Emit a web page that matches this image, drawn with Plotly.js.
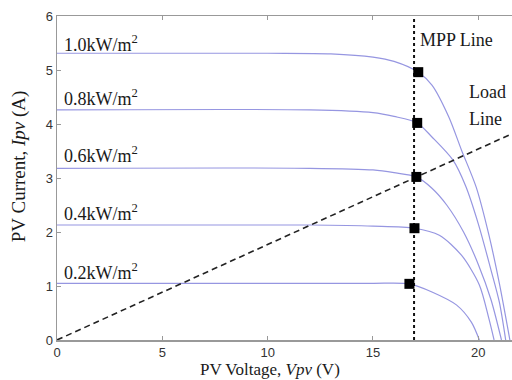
<!DOCTYPE html>
<html>
<head>
<meta charset="utf-8">
<script src="https://cdn.plot.ly/plotly-3.0.1.min.js"></script>
<style>html,body{margin:0;padding:0;background:#fff;}#chart{width:512px;height:380px;}</style>
</head>
<body>
<div id="chart"></div>
<script>
// I-V curves for each irradiance level (voltage V, current A)
const v10 = [0, 10, 13, 15, 16, 17.15, 17.8, 18.6, 19.2, 19.9, 20.5, 21.0, 21.5];
const i10 = [5.31, 5.31, 5.30, 5.24, 5.16, 4.96, 4.72, 4.13, 3.52, 2.83, 1.95, 1.05, 0];
const v08 = [0, 12, 15, 16, 17.1, 17.8, 18.8, 19.4, 20.0, 20.6, 21.0, 21.3];
const i08 = [4.26, 4.26, 4.21, 4.14, 4.02, 3.76, 3.33, 2.85, 2.15, 1.3, 0.7, 0];
const v06 = [0, 12, 15, 16, 17.06, 17.8, 18.5, 19.3, 20.0, 20.6, 21.1];
const i06 = [3.18, 3.18, 3.15, 3.10, 3.02, 2.81, 2.5, 2.0, 1.4, 0.75, 0];
const v04 = [0, 12, 15, 16.97, 18.15, 19.2, 20.05, 20.5, 20.75];
const i04 = [2.13, 2.13, 2.11, 2.07, 1.94, 1.57, 1.02, 0.4, 0];
const v02 = [0, 12, 15, 16.73, 17.8, 18.96, 19.67, 20.05];
const i02 = [1.05, 1.05, 1.05, 1.04, 0.89, 0.65, 0.33, 0];
// MPP points
const mppV = [17.15, 17.1, 17.06, 16.97, 16.73];
const mppI = [4.96, 4.02, 3.02, 2.07, 1.04];
// MPP line and load line
const mppLineV = [16.95, 16.95];
const mppLineI = [0, 6];
const loadV = [0, 21.6];
const loadI = [0, 3.82];
// Labels
const irrLabels = ['1.0kW/m<sup>2</sup>', '0.8kW/m<sup>2</sup>', '0.6kW/m<sup>2</sup>', '0.4kW/m<sup>2</sup>', '0.2kW/m<sup>2</sup>'];
const irrLabelY = [5.5, 4.5, 3.43, 2.37, 1.26];
const xTicks = [0, 5, 10, 15, 20];
const yTicks = [0, 1, 2, 3, 4, 5, 6];

const curveColor = 'rgb(150,150,225)';
const serif = 'Liberation Serif, Times New Roman, serif';
const textCol = '#1a1a1a';
const curves = [[v10,i10],[v08,i08],[v06,i06],[v04,i04],[v02,i02]];
const traces = curves.map(c => ({
  x: c[0], y: c[1], type: 'scatter', mode: 'lines',
  line: {color: curveColor, width: 1.2, shape: 'spline', smoothing: 0.8},
  hoverinfo: 'skip', showlegend: false
}));
traces.push({x: mppLineV, y: mppLineI, type: 'scatter', mode: 'lines',
  line: {color: '#111', width: 2, dash: '3px,3px'}, showlegend: false});
traces.push({x: loadV, y: loadI, type: 'scatter', mode: 'lines',
  line: {color: '#222', width: 1.6, dash: '6px,4px'}, showlegend: false});
traces.push({x: mppV, y: mppI, type: 'scatter', mode: 'markers',
  marker: {symbol: 'square', size: 10, color: '#000'}, showlegend: false});

const annotations = irrLabels.map((t, k) => ({
  x: 0.25, y: irrLabelY[k], xref: 'x', yref: 'y', text: t, showarrow: false,
  xanchor: 'left', yanchor: 'middle', font: {family: serif, size: 18, color: textCol}
}));
annotations.push({x: 17.15, y: 5.55, xref: 'x', yref: 'y', text: 'MPP Line', showarrow: false,
  xanchor: 'left', yanchor: 'middle', font: {family: serif, size: 18, color: textCol}});
annotations.push({x: 19.45, y: 4.6, xref: 'x', yref: 'y', text: 'Load', showarrow: false,
  xanchor: 'left', yanchor: 'middle', font: {family: serif, size: 18, color: textCol}});
annotations.push({x: 19.45, y: 4.1, xref: 'x', yref: 'y', text: 'Line', showarrow: false,
  xanchor: 'left', yanchor: 'middle', font: {family: serif, size: 18, color: textCol}});
// axis titles
annotations.push({x: (270 - 57) / (512 - 57), y: -0.091, xref: 'paper', yref: 'paper',
  text: 'PV Voltage, <i>Vpv</i> (V)', showarrow: false, xanchor: 'center', yanchor: 'middle',
  font: {family: serif, size: 17, color: textCol}});
annotations.push({x: -0.083, y: (340 - 166) / (340 - 16), xref: 'paper', yref: 'paper',
  text: 'PV Current, <i>Ipv</i> (A)', showarrow: false, xanchor: 'center', yanchor: 'middle', textangle: -90,
  font: {family: serif, size: 19, color: textCol}});

const layout = {
  width: 512, height: 380,
  margin: {l: 57, r: 0, t: 16, b: 40},
  paper_bgcolor: '#fff', plot_bgcolor: '#fff',
  xaxis: {range: [0, 21.6], tickvals: xTicks, ticks: 'inside', ticklen: 4, tickcolor: '#999',
    showline: true, linecolor: '#999', linewidth: 1.5, mirror: 'ticks', showgrid: false, zeroline: false,
    tickfont: {family: 'Liberation Sans, Arial, sans-serif', size: 13, color: '#333'}},
  yaxis: {range: [0, 6], tickvals: yTicks, ticks: 'inside', ticklen: 4, tickcolor: '#999',
    showline: true, linecolor: '#999', linewidth: 1.5, showgrid: false, zeroline: false,
    tickfont: {family: 'Liberation Sans, Arial, sans-serif', size: 13, color: '#333'}},
  annotations: annotations
};
Plotly.newPlot('chart', traces, layout, {displayModeBar: false, staticPlot: true});
</script>
</body>
</html>
